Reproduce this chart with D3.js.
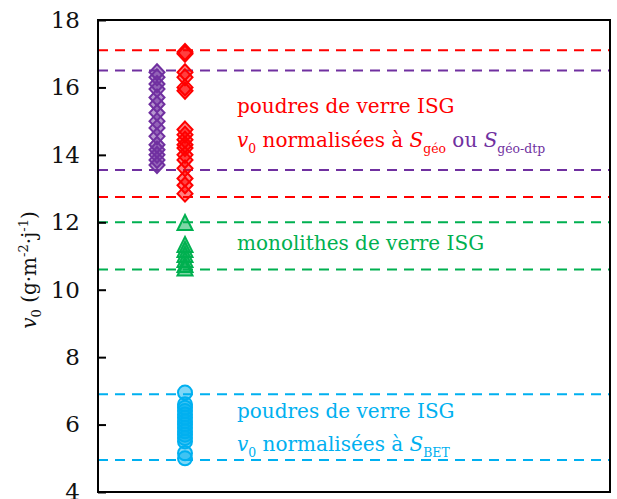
<!DOCTYPE html>
<html><head><meta charset="utf-8">
<script src="https://cdn.jsdelivr.net/npm/d3@7"></script>
<style>body{margin:0;background:#fff}svg{display:block}text{font-family:"DejaVu Serif",serif}</style>
</head><body>
<script>
const purpleVals=[16.45,16.3,16.1,15.95,15.7,15.5,15.25,15.0,14.8,14.55,14.3,14.15,14.0,13.85,13.7];
const redVals=[17.05,17.0,16.45,16.3,16.0,15.9,14.75,14.6,14.45,14.3,14.2,14.0,13.85,13.6,13.3,13.1,12.85];
const greenVals=[11.95,11.3,11.15,11.0,10.85,10.7,10.6];
const blueVals=[6.95,6.6,6.5,6.4,6.3,6.2,6.1,6.0,5.9,5.8,5.7,5.6,5.5,5.15,5.0];
const refLines=[{v:17.1,c:"#ff0000"},{v:16.5,c:"#7030a0"},{v:13.55,c:"#7030a0"},{v:12.75,c:"#ff0000"},{v:12.0,c:"#00b050"},{v:10.6,c:"#00b050"},{v:6.9,c:"#00b0f0"},{v:4.95,c:"#00b0f0"}];
const yTicks=[4,6,8,10,12,14,16,18];
const cols={purple:"#7030a0",red:"#ff0000",green:"#00b050",blue:"#00b0f0"};

const W=617,H=499;
const svg=d3.select("body").append("svg").attr("width",W).attr("height",H);
const x0=98,x1=610;
const y=d3.scaleLinear().domain([4,18]).range([492,20]);
const x=d3.scaleLinear().domain([0,1]).range([x0,x1]);

svg.selectAll("line.ref").data(refLines).enter().append("line")
 .attr("x1",x(0)).attr("x2",x(1)).attr("y1",d=>y(d.v)).attr("y2",d=>y(d.v))
 .attr("stroke",d=>d.c).attr("stroke-width",2).attr("stroke-dasharray","10,7");

const ax=d3.axisLeft(y).tickValues(yTicks).tickSize(-8).tickPadding(18).tickFormat(d3.format("d"));
const g=svg.append("g").attr("transform",`translate(${x0},0)`).call(ax);
g.select(".domain").remove();
g.selectAll(".tick line").attr("stroke","#000").attr("stroke-width",2);
g.selectAll(".tick text").attr("font-size",23).attr("fill","#111").attr("font-family","DejaVu Serif");
svg.append("rect").attr("x",x0).attr("y",y(18)).attr("width",x1-x0).attr("height",y(4)-y(18))
 .attr("fill","none").attr("stroke","#000").attr("stroke-width",2);

const diamond=(w,h)=>`M0,${-h/2}L${w/2},0L0,${h/2}L${-w/2},0Z`;
const tri=(w,h)=>`M0,${-h*0.6}L${w/2},${h*0.4}L${-w/2},${h*0.4}Z`;
const circ=r=>d3.symbol().type(d3.symbolCircle).size(Math.PI*r*r)();
function pts(vals,xp,path,c){
 svg.append("g").selectAll("path").data(vals).enter().append("path")
  .attr("d",path).attr("transform",d=>`translate(${xp},${y(d)})`)
  .attr("fill",c).attr("fill-opacity",0.5).attr("stroke",c).attr("stroke-width",2);
}
pts(purpleVals,157,diamond(15,16),cols.purple);
pts(redVals,185,diamond(15,16),cols.red);
pts(greenVals,185,tri(15,15),cols.green);
pts(blueVals,185,circ(7),cols.blue);

const fs=20;
function line(xp,yp,parts){
 const t=svg.append("text").attr("x",xp).attr("y",yp).attr("font-size",fs);
 parts.forEach(p=>{
  const s=t.append("tspan").text(p.t).attr("fill",p.c);
  if(p.i) s.attr("font-style","italic");
  if(p.sub){s.attr("font-size",fs*0.62).attr("dy",6);}
  if(p.back){s.attr("dy",-6);}
 });
}
line(237,113,[{t:"poudres de verre ISG",c:cols.red}]);
line(237,147,[{t:"v",c:cols.red,i:1},{t:"0",c:cols.red,sub:1},{t:" normalisées à ",c:cols.red,back:1},{t:"S",c:cols.red,i:1},{t:"géo",c:cols.red,sub:1},{t:" ou ",c:cols.purple,back:1},{t:"S",c:cols.purple,i:1},{t:"géo-dtp",c:cols.purple,sub:1}]);
line(237,250,[{t:"monolithes de verre ISG",c:cols.green}]);
line(237,418,[{t:"poudres de verre ISG",c:cols.blue}]);
line(237,451,[{t:"v",c:cols.blue,i:1},{t:"0",c:cols.blue,sub:1},{t:" normalisées à ",c:cols.blue,back:1},{t:"S",c:cols.blue,i:1},{t:"BET",c:cols.blue,sub:1}]);

const yt=svg.append("text").attr("transform","translate(36,270) rotate(-90)").attr("text-anchor","middle").attr("font-size",20).attr("fill","#111");
yt.append("tspan").text("v").attr("font-style","italic");
yt.append("tspan").text("0").attr("font-size",13).attr("dy",5);
yt.append("tspan").text(" (g·m").attr("dy",-5);
yt.append("tspan").text("-2").attr("font-size",13).attr("dy",-8);
yt.append("tspan").text("·j").attr("dy",8);
yt.append("tspan").text("-1").attr("font-size",13).attr("dy",-8);
yt.append("tspan").text(")").attr("dy",8);
</script>
</body></html>
